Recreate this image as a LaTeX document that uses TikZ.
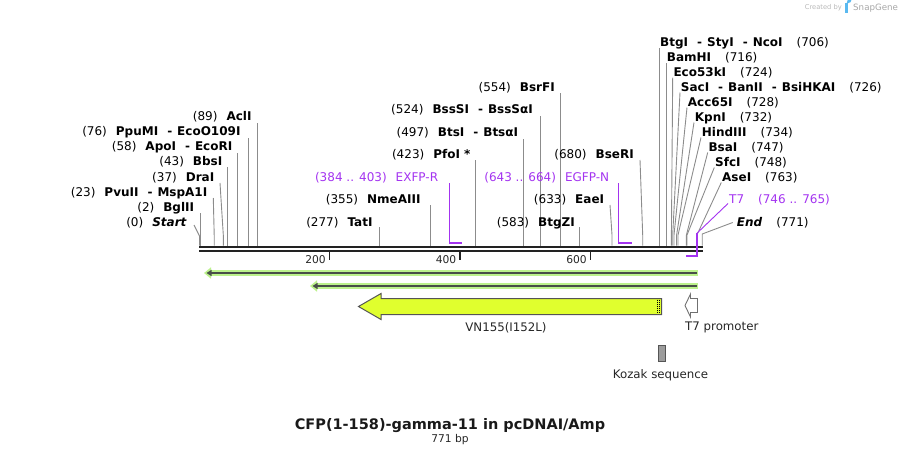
\documentclass[tikz,border=0pt]{standalone}
\usepackage{fontspec}
\setmainfont{DejaVu Sans}
\usetikzlibrary{arrows.meta}
\definecolor{prim}{RGB}{163,51,240}
\definecolor{halo}{RGB}{188,242,140}
\definecolor{dline}{RGB}{72,78,72}
\definecolor{featY}{RGB}{224,255,46}
\definecolor{edgec}{RGB}{85,85,85}
\definecolor{sitec}{RGB}{140,140,140}
\definecolor{seqc}{RGB}{34,34,34}
\definecolor{wmark}{RGB}{185,185,185}
\definecolor{wblue}{RGB}{90,185,240}
\newcommand{\enzsep}{\hspace{9pt}-\hspace{5pt}}
\begin{document}
\begin{tikzpicture}[x=1pt,y=-1pt,
  lbl/.style={inner sep=0pt, font=\fontsize{12}{14}\selectfont, text=black},
  lblL/.style={lbl, anchor=base east},
  lblR/.style={lbl, anchor=base west},
  siteline/.style={draw=sitec, line width=0.9pt},
  primline/.style={draw=prim, line width=1.5pt},
  seqline/.style={draw=seqc},
  halostyle/.style={draw=halo, line width=6pt},
  darkstyle/.style={draw=dline, line width=2pt},
  tickstyle/.style={draw=seqc, line width=1.8pt},
  featlbl/.style={inner sep=0pt, font=\fontsize{11.8}{14}\selectfont, text=black!85}
]
\path[use as bounding box] (0,0) rectangle (902,456);

% watermark
\node[inner sep=0pt, anchor=base east, font=\fontsize{6.7}{8}\selectfont, text=wmark] (wm1) at (842,9.5) {Created by};
\fill[wblue] (845,3) rectangle (847.5,13);
\fill[wblue] (845,3) -- (848.5,3) arc[start angle=90, end angle=-90, radius=2.8] -- (845,8.6) -- cycle;
\node[inner sep=0pt, anchor=base west, font=\fontsize{8.7}{10}\selectfont, text=wmark!90!black] (wm2) at (853,10.5) {SnapGene};

% sequence line
\coordinate (sqA1) at (199,247); \coordinate (sqB1) at (702.5,247);
\coordinate (sqA2) at (199,251.3); \coordinate (sqB2) at (702.5,251.3);
\draw[seqline, line width=2.6pt] (sqA1) -- (sqB1);
\draw[seqline, line width=2pt] (sqA2) -- (sqB2);

% ticks
\foreach \tx/\tl in {329.5/200, 460/400, 590.5/600}{
  \coordinate (tkA\tl) at (\tx,252.3);
  \coordinate (tkB\tl) at (\tx,259.5);
  \draw[tickstyle] (tkA\tl) -- (tkB\tl);
  \node[inner sep=0pt, anchor=base east, font=\fontsize{10.7}{12}\selectfont, text=black!85] (tkl\tl) at (\tx-3.5,263.5) {\tl};
}

% ---------- left cluster ----------
\node[lblL] (lStart) at (187,226.3) {(0)\hspace{9pt}\textbf{\textit{Start}}};
\coordinate (cStartA) at (194,225); \coordinate (cStartB) at (199.5,236); \coordinate (cStartC) at (199.5,245.5);
\draw[siteline] (cStartA) -- (cStartB) -- (cStartC);

\node[lblL] (lBglII) at (194.3,211.2) {(2)\hspace{9pt}\textbf{BglII}};
\coordinate (cBglA) at (200.3,213); \coordinate (cBglB) at (200.3,245.5);
\draw[siteline] (cBglA) -- (cBglB);

\node[lblL] (lPvuII) at (207.5,196.1) {(23)\hspace{9pt}\textbf{PvuII\enzsep MspA1I}};
\coordinate (cPvuA) at (213.3,198); \coordinate (cPvuB) at (214.2,235); \coordinate (cPvuC) at (214.2,245.5);
\draw[siteline] (cPvuA) -- (cPvuB) -- (cPvuC);

\node[lblL] (lDraI) at (214.5,181) {(37)\hspace{9pt}\textbf{DraI}};
\coordinate (cDraA) at (220,183); \coordinate (cDraB) at (223.3,235); \coordinate (cDraC) at (223.3,245.5);
\draw[siteline] (cDraA) -- (cDraB) -- (cDraC);

\node[lblL] (lBbsI) at (222.5,165.9) {(43)\hspace{9pt}\textbf{BbsI}};
\coordinate (cBbsA) at (227,167); \coordinate (cBbsB) at (227,245.5);
\draw[siteline] (cBbsA) -- (cBbsB);

\node[lblL] (lApoI) at (232.5,150.8) {(58)\hspace{9pt}\textbf{ApoI\enzsep EcoRI}};
\coordinate (cApoA) at (237.3,153); \coordinate (cApoB) at (237.3,245.5);
\draw[siteline] (cApoA) -- (cApoB);

\node[lblL] (lPpuMI) at (240.7,135.7) {(76)\hspace{9pt}\textbf{PpuMI\enzsep EcoO109I}};
\coordinate (cPpuA) at (248.6,138); \coordinate (cPpuB) at (248.6,245.5);
\draw[siteline] (cPpuA) -- (cPpuB);

\node[lblL] (lAclI) at (251.7,120.6) {(89)\hspace{9pt}\textbf{AclI}};
\coordinate (cAclA) at (257.3,123); \coordinate (cAclB) at (257.3,245.5);
\draw[siteline] (cAclA) -- (cAclB);

% ---------- middle ----------
\node[lblL] (lTatI) at (372.7,226) {(277)\hspace{9pt}\textbf{TatI}};
\coordinate (cTatA) at (379.7,227); \coordinate (cTatB) at (379.7,245.5);
\draw[siteline] (cTatA) -- (cTatB);

\node[lblL] (lNme) at (420.7,203) {(355)\hspace{9pt}\textbf{NmeAIII}};
\coordinate (cNmeA) at (430.6,205); \coordinate (cNmeB) at (430.6,245.5);
\draw[siteline] (cNmeA) -- (cNmeB);

\node[lblL, text=prim] (lEXFP) at (438.3,181) {(384 .. 403)\hspace{9pt}EXFP-R};
\coordinate (cExA) at (449.6,183); \coordinate (cExB) at (449.6,243); \coordinate (cExC) at (462,243);
\draw[primline] (cExA) -- (cExB) -- (cExC);

\node[lblL] (lPfoI) at (470.7,158.3) {(423)\hspace{9pt}\textbf{PfoI *}};
\coordinate (cPfoA) at (475,160); \coordinate (cPfoB) at (475,245.5);
\draw[siteline] (cPfoA) -- (cPfoB);

\node[lblL] (lBtsI) at (518.3,136) {(497)\hspace{9pt}\textbf{BtsI\enzsep BtsαI}};
\coordinate (cBtsA) at (523.3,139); \coordinate (cBtsB) at (523.3,245.5);
\draw[siteline] (cBtsA) -- (cBtsB);

\node[lblL] (lBssSI) at (533,113.6) {(524)\hspace{9pt}\textbf{BssSI\enzsep BssSαI}};
\coordinate (cBssA) at (540.9,116); \coordinate (cBssB) at (540.9,245.5);
\draw[siteline] (cBssA) -- (cBssB);

\node[lblL] (lBsrFI) at (555,91) {(554)\hspace{9pt}\textbf{BsrFI}};
\coordinate (cBsrA) at (560.5,93); \coordinate (cBsrB) at (560.5,245.5);
\draw[siteline] (cBsrA) -- (cBsrB);

\node[lblL] (lBtgZI) at (575,226) {(583)\hspace{9pt}\textbf{BtgZI}};
\coordinate (cBtgZA) at (579.4,227); \coordinate (cBtgZB) at (579.4,245.5);
\draw[siteline] (cBtgZA) -- (cBtgZB);

\node[lblL] (lEaeI) at (604.3,203) {(633)\hspace{9pt}\textbf{EaeI}};
\coordinate (cEaeA) at (610,205); \coordinate (cEaeB) at (612,235); \coordinate (cEaeC) at (612,245.5);
\draw[siteline] (cEaeA) -- (cEaeB) -- (cEaeC);

\node[lblL, text=prim] (lEGFP) at (609.3,181) {(643 .. 664)\hspace{9pt}EGFP-N};
\coordinate (cEgA) at (618.6,183); \coordinate (cEgB) at (618.6,243); \coordinate (cEgC) at (632,243);
\draw[primline] (cEgA) -- (cEgB) -- (cEgC);

\node[lblL] (lBseRI) at (634,158.3) {(680)\hspace{9pt}\textbf{BseRI}};
\coordinate (cBseA) at (640,160); \coordinate (cBseB) at (642.7,235); \coordinate (cBseC) at (642.7,245.5);
\draw[siteline] (cBseA) -- (cBseB) -- (cBseC);

% ---------- right cluster ----------
\node[lblR] (lBtgI) at (660,46.6) {\textbf{BtgI\enzsep StyI\enzsep NcoI}\hspace{14pt}(706)};
\coordinate (cBtgA) at (659.7,48); \coordinate (cBtgB) at (659.7,245.5);
\draw[siteline] (cBtgA) -- (cBtgB);

\node[lblR] (lBamHI) at (666.7,61) {\textbf{BamHI}\hspace{14pt}(716)};
\coordinate (cBamA) at (666.2,63); \coordinate (cBamB) at (666.2,245.5);
\draw[siteline] (cBamA) -- (cBamB);

\node[lblR] (lEco53) at (673.3,76.3) {\textbf{Eco53kI}\hspace{14pt}(724)};
\coordinate (cEcoA) at (672.7,77.5); \coordinate (cEcoB) at (671.4,235); \coordinate (cEcoC) at (671.4,245.5);
\draw[siteline] (cEcoA) -- (cEcoB) -- (cEcoC);

\node[lblR] (lSacI) at (680.7,91.3) {\textbf{SacI\enzsep BanII\enzsep BsiHKAI}\hspace{14pt}(726)};
\coordinate (cSacA) at (680,92.5); \coordinate (cSacB) at (672.7,235); \coordinate (cSacC) at (672.7,245.5);
\draw[siteline] (cSacA) -- (cSacB) -- (cSacC);

\node[lblR] (lAcc65) at (687.7,106) {\textbf{Acc65I}\hspace{14pt}(728)};
\coordinate (cAccA) at (687,107.5); \coordinate (cAccB) at (674,235); \coordinate (cAccC) at (674,245.5);
\draw[siteline] (cAccA) -- (cAccB) -- (cAccC);

\node[lblR] (lKpnI) at (694.7,121.3) {\textbf{KpnI}\hspace{14pt}(732)};
\coordinate (cKpnA) at (694,122.5); \coordinate (cKpnB) at (676.6,235); \coordinate (cKpnC) at (676.6,245.5);
\draw[siteline] (cKpnA) -- (cKpnB) -- (cKpnC);

\node[lblR] (lHind) at (701.7,136) {\textbf{HindIII}\hspace{14pt}(734)};
\coordinate (cHinA) at (701,137.5); \coordinate (cHinB) at (678,235); \coordinate (cHinC) at (678,245.5);
\draw[siteline] (cHinA) -- (cHinB) -- (cHinC);

\node[lblR] (lBsaI) at (708.3,151.3) {\textbf{BsaI}\hspace{14pt}(747)};
\coordinate (cBsaA) at (707.7,152.5); \coordinate (cBsaB) at (686.4,235); \coordinate (cBsaC) at (686.4,245.5);
\draw[siteline] (cBsaA) -- (cBsaB) -- (cBsaC);

\node[lblR] (lSfcI) at (715,166.3) {\textbf{SfcI}\hspace{14pt}(748)};
\coordinate (cSfcA) at (714.3,167.5); \coordinate (cSfcB) at (687,235); \coordinate (cSfcC) at (687,245.5);
\draw[siteline] (cSfcA) -- (cSfcB) -- (cSfcC);

\node[lblR] (lAseI) at (722,181.3) {\textbf{AseI}\hspace{14pt}(763)};
\coordinate (cAseA) at (721.3,182.5); \coordinate (cAseB) at (696.9,235); \coordinate (cAseC) at (696.9,245.5);
\draw[siteline] (cAseA) -- (cAseB) -- (cAseC);

\node[lblR, text=prim] (lT7) at (729,203.6) {T7\hspace{14pt}(746 .. 765)};
\coordinate (cT7A) at (728,203.5); \coordinate (cT7B) at (697.2,233); \coordinate (cT7C) at (697.2,256); \coordinate (cT7D) at (686,256);
\draw[draw=prim, line width=0.9pt] (cT7A) -- (cT7B);
\draw[primline] (cT7B) -- (cT7C) -- (cT7D);

\node[lblR] (lEnd) at (736.7,226) {\textbf{\textit{End}}\hspace{14pt}(771)};
\coordinate (cEndA) at (732.7,222.5); \coordinate (cEndB) at (702.2,234); \coordinate (cEndC) at (702.2,245.5);
\draw[siteline] (cEndA) -- (cEndB) -- (cEndC);

% ---------- features ----------
\coordinate (a1R) at (698,273); \coordinate (a1L) at (204,273);
\coordinate (a1r) at (696.5,273); \coordinate (a1l) at (206.5,273);
\draw[halostyle, -{Triangle[length=7pt,width=11pt]}] (a1R) -- (a1L);
\draw[darkstyle, -{Triangle[length=5pt,width=6pt]}] (a1r) -- (a1l);

\coordinate (a2R) at (698,286); \coordinate (a2L) at (310,286);
\coordinate (a2r) at (696.5,286); \coordinate (a2l) at (312.5,286);
\draw[halostyle, -{Triangle[length=7pt,width=11pt]}] (a2R) -- (a2L);
\draw[darkstyle, -{Triangle[length=5pt,width=6pt]}] (a2r) -- (a2l);

% VN155 arrow
\draw[fill=featY, draw=edgec, line width=1pt, line join=miter]
  (661.5,298.5) -- (381,298.5) -- (381,293.5) -- (358.5,306.5) -- (381,319.5) -- (381,314.5) -- (661.5,314.5) -- cycle;
\coordinate (dtA) at (657.6,299.5); \coordinate (dtB) at (657.6,313.5);
\coordinate (dtC) at (659.9,299.5); \coordinate (dtD) at (659.9,313.5);
\draw[black, line width=1pt, dash pattern=on 1pt off 1pt] (dtA) -- (dtB);
\draw[black, line width=1pt, dash pattern=on 1pt off 1pt] (dtC) -- (dtD);
\node[featlbl] (lVN) at (506,327.5) {VN155(I152L)};

% T7 promoter
\draw[fill=white, draw=sitec!80!black, line width=0.9pt, line join=miter]
  (697.5,298.5) -- (690.5,298.5) -- (690.5,294) -- (685,305.5) -- (690.5,317) -- (690.5,312.5) -- (697.5,312.5) -- cycle;
\node[featlbl, anchor=west] (lT7p) at (685,327.5) {T7 promoter};

% Kozak
\draw[fill=black!30!gray!60, draw=edgec, line width=0.9pt] (658.7,345.3) rectangle (665.5,361.5);
\node[featlbl] (lKoz) at (660.5,375) {Kozak sequence};

% title
\node[inner sep=0pt, font=\bfseries\fontsize{14.5}{17}\selectfont, text=black!90] (title) at (450,425.5) {CFP(1-158)-gamma-11 in pcDNAI/Amp};
\node[inner sep=0pt, font=\fontsize{10.7}{12}\selectfont, text=black!85] (bp) at (450,440) {771 bp};
\end{tikzpicture}
\end{document}
